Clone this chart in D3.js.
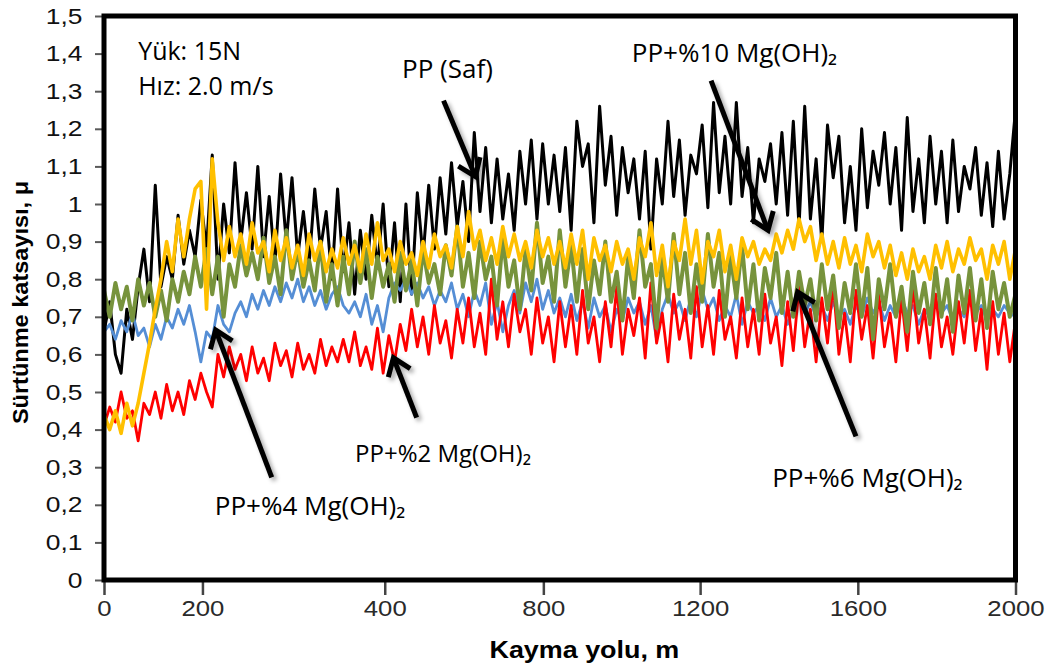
<!DOCTYPE html>
<html>
<head>
<meta charset="utf-8">
<script src="https://cdn.jsdelivr.net/npm/d3@7"></script>
<style>
  body { margin: 0; background: #fff; }
  svg { display: block; }
</style>
</head>
<body>
<div id="chart"></div>
<script>
// sliding distance covered by every series (m), samples are evenly spaced
const distanceMax = 2000;
const xTicks = [0, 200, 400, 800, 1200, 1600, 2000];
const yTicks = [0, 0.1, 0.2, 0.3, 0.4, 0.5, 0.6, 0.7, 0.8, 0.9, 1, 1.1, 1.2, 1.3, 1.4, 1.5];

// friction coefficient (161 samples each)
const ppSaf = [
  0.66,0.74,0.60,0.55,0.72,0.64,0.78,0.88,0.74,1.05,
  0.78,0.86,0.80,0.97,0.84,0.93,0.86,1.01,0.88,1.13,
  0.80,1.00,0.87,1.11,0.90,1.03,0.88,1.10,0.86,1.02,
  0.84,1.08,0.90,1.07,0.86,0.98,0.84,1.04,0.88,0.98,
  0.80,1.04,0.82,0.95,0.76,0.93,0.80,0.97,0.83,1.00,
  0.78,0.95,0.74,1.00,0.76,1.03,0.86,1.05,0.88,1.07,
  0.92,1.11,0.94,1.06,0.90,1.19,0.98,1.15,0.95,1.12,
  0.96,1.08,0.93,1.14,1.00,1.17,0.96,1.16,1.00,1.13,
  0.98,1.15,0.93,1.22,1.10,1.16,0.95,1.26,1.05,1.18,
  0.97,1.15,1.03,1.12,0.96,1.14,0.88,1.12,1.00,1.22,
  1.02,1.17,0.97,1.13,1.08,1.21,0.99,1.27,1.03,1.18,
  1.00,1.27,1.02,1.15,0.95,1.12,1.06,1.16,1.00,1.19,
  0.97,1.22,0.94,1.26,0.96,1.12,0.90,1.21,1.07,1.18,
  0.95,1.10,0.93,1.20,0.99,1.14,1.05,1.19,1.00,1.15,
  0.93,1.23,0.98,1.12,0.95,1.18,1.00,1.14,0.95,1.17,
  0.98,1.10,1.04,1.15,0.97,1.11,0.94,1.14,0.96,1.08,
  1.25
];
const pp2 = [
  0.41,0.46,0.42,0.50,0.43,0.45,0.37,0.47,0.44,0.50,
  0.43,0.52,0.45,0.50,0.44,0.53,0.48,0.55,0.50,0.46,
  0.60,0.54,0.62,0.56,0.60,0.53,0.62,0.55,0.59,0.53,
  0.63,0.57,0.61,0.54,0.63,0.56,0.60,0.55,0.64,0.57,
  0.62,0.58,0.64,0.58,0.66,0.57,0.62,0.56,0.67,0.55,
  0.65,0.58,0.68,0.61,0.72,0.62,0.70,0.60,0.73,0.63,
  0.69,0.59,0.72,0.63,0.75,0.62,0.71,0.60,0.80,0.64,
  0.74,0.62,0.76,0.66,0.72,0.60,0.75,0.63,0.70,0.58,
  0.74,0.62,0.73,0.60,0.77,0.63,0.70,0.58,0.74,0.62,
  0.78,0.60,0.72,0.65,0.75,0.59,0.79,0.63,0.71,0.58,
  0.76,0.64,0.72,0.59,0.78,0.62,0.73,0.60,0.77,0.64,
  0.70,0.59,0.75,0.62,0.72,0.60,0.76,0.63,0.70,0.57,
  0.74,0.61,0.78,0.62,0.72,0.58,0.75,0.63,0.79,0.60,
  0.71,0.58,0.77,0.64,0.73,0.59,0.76,0.62,0.71,0.58,
  0.75,0.61,0.78,0.63,0.72,0.59,0.76,0.62,0.70,0.60,
  0.74,0.63,0.77,0.61,0.72,0.56,0.74,0.60,0.71,0.58,
  0.69
];
const pp4 = [
  0.66,0.68,0.64,0.69,0.66,0.71,0.65,0.67,0.62,0.68,
  0.64,0.70,0.67,0.72,0.68,0.73,0.66,0.58,0.66,0.64,
  0.73,0.68,0.66,0.71,0.74,0.70,0.76,0.72,0.77,0.73,
  0.78,0.74,0.79,0.75,0.80,0.74,0.78,0.73,0.77,0.72,
  0.76,0.78,0.73,0.71,0.74,0.70,0.76,0.68,0.73,0.66,
  0.75,0.79,0.77,0.80,0.76,0.79,0.75,0.78,0.73,0.77,
  0.74,0.79,0.72,0.76,0.70,0.77,0.73,0.79,0.68,0.74,
  0.66,0.73,0.77,0.71,0.79,0.74,0.80,0.72,0.77,0.71,
  0.75,0.70,0.76,0.69,0.74,0.67,0.75,0.70,0.73,0.66,
  0.72,0.69,0.75,0.71,0.74,0.68,0.73,0.64,0.72,0.76,
  0.71,0.74,0.69,0.75,0.70,0.77,0.72,0.75,0.69,0.73,
  0.70,0.76,0.68,0.74,0.71,0.73,0.69,0.75,0.70,0.73,
  0.68,0.72,0.76,0.71,0.74,0.70,0.73,0.69,0.74,0.70,
  0.72,0.68,0.73,0.70,0.75,0.71,0.74,0.69,0.73,0.70,
  0.75,0.71,0.73,0.68,0.72,0.70,0.74,0.71,0.73,0.69,
  0.72,0.70,0.74,0.71,0.73,0.69,0.72,0.70,0.73,0.71,
  0.70
];
const pp6 = [
  0.77,0.70,0.79,0.72,0.78,0.69,0.80,0.73,0.79,0.70,
  0.77,0.69,0.80,0.74,0.82,0.76,0.86,0.78,0.88,0.76,
  0.86,0.70,0.84,0.78,0.89,0.81,0.87,0.80,0.91,0.79,
  0.86,0.76,0.93,0.80,0.88,0.78,0.85,0.77,0.90,0.74,
  0.84,0.73,0.86,0.76,0.90,0.79,0.88,0.75,0.86,0.78,
  0.84,0.74,0.87,0.77,0.85,0.73,0.88,0.79,0.84,0.76,
  0.89,0.81,0.94,0.78,0.87,0.75,0.90,0.80,0.86,0.73,
  0.91,0.78,0.85,0.72,0.88,0.77,0.95,0.79,0.86,0.74,
  0.93,0.78,0.89,0.74,0.88,0.72,0.85,0.76,0.90,0.74,
  0.82,0.69,0.86,0.75,0.93,0.78,0.84,0.67,0.86,0.74,
  0.92,0.76,0.87,0.71,0.84,0.74,0.92,0.78,0.87,0.70,
  0.86,0.75,0.89,0.72,0.84,0.69,0.83,0.75,0.87,0.71,
  0.82,0.70,0.82,0.73,0.80,0.69,0.84,0.72,0.81,0.67,
  0.79,0.71,0.84,0.70,0.83,0.64,0.80,0.72,0.84,0.70,
  0.78,0.66,0.82,0.71,0.79,0.68,0.83,0.70,0.80,0.66,
  0.81,0.71,0.83,0.69,0.80,0.67,0.82,0.72,0.79,0.70,
  0.76
];
const pp10 = [
  0.44,0.40,0.45,0.39,0.47,0.41,0.47,0.55,0.63,0.72,
  0.80,0.90,0.82,0.96,0.86,0.96,1.04,1.06,0.72,1.12,
  0.95,0.85,0.94,0.86,0.92,0.84,0.95,0.87,0.90,0.82,
  0.93,0.85,0.91,0.83,0.89,0.81,0.92,0.85,0.90,0.82,
  0.88,0.83,0.91,0.84,0.89,0.82,0.92,0.84,0.95,0.85,
  0.88,0.82,0.90,0.84,0.87,0.81,0.90,0.83,0.92,0.86,
  0.89,0.83,0.94,0.86,0.98,0.88,0.93,0.85,0.91,0.84,
  0.94,0.86,0.92,0.85,0.90,0.83,0.93,0.86,0.91,0.84,
  0.90,0.83,0.92,0.84,0.93,0.80,0.91,0.85,0.89,0.82,
  0.90,0.84,0.88,0.80,0.91,0.86,0.95,0.81,0.89,0.78,
  0.90,0.85,0.96,0.84,0.93,0.79,0.90,0.86,0.93,0.82,
  0.89,0.80,0.91,0.86,0.90,0.84,0.88,0.85,0.92,0.87,
  0.93,0.88,0.96,0.90,0.94,0.85,0.92,0.84,0.90,0.83,
  0.91,0.84,0.89,0.82,0.92,0.86,0.90,0.83,0.89,0.81,
  0.87,0.80,0.88,0.82,0.86,0.80,0.89,0.83,0.90,0.82,
  0.88,0.84,0.91,0.85,0.88,0.80,0.89,0.84,0.90,0.80,
  0.88
];

// drawing order: back to front
const seriesNames = ["PP (Saf)", "PP+%4 Mg(OH)₂", "PP+%2 Mg(OH)₂", "PP+%6 Mg(OH)₂", "PP+%10 Mg(OH)₂"];
const seriesValues = [ppSaf, pp4, pp2, pp6, pp10];
const seriesColors = ["#000000", "#558ED5", "#FF0000", "#77933C", "#FFC000"];
const seriesWidths = [3, 2.8, 2.8, 4, 3.6];

// annotation texts and arrows (in data units: m, μ)
const noteTexts = ["Yük: 15N", "Hız: 2.0 m/s", "PP (Saf)", "PP+%10 Mg(OH)₂", "PP+%2 Mg(OH)₂", "PP+%4 Mg(OH)₂", "PP+%6 Mg(OH)₂"];
const noteAt = [[75, 1.383], [75, 1.290], [654, 1.335], [1158, 1.378], [551, 0.314], [243, 0.173], [1466, 0.247]];
const noteSize = [25, 25, 26, 26, 24, 26, 26];
const arrowFrom = [[745, 1.275], [1332, 1.328], [686, 0.432], [368, 0.273], [1650, 0.382]];
const arrowTo   = [[815, 1.073], [1457, 0.930], [635, 0.591], [245, 0.665], [1522, 0.766]];

// the pasted x-axis labels of the original are not evenly spaced
const xTickFrac = [0, 0.108, 0.308, 0.482, 0.654, 0.827, 1];

const W = 1056, H = 671;
const margin = { top: 16, right: 40.5, bottom: 91, left: 104 };
const innerW = W - margin.left - margin.right;
const innerH = H - margin.top - margin.bottom;

const svg = d3.select("#chart").append("svg")
  .attr("width", W)
  .attr("height", H);

const defs = svg.append("defs");
const shadow = defs.append("filter").attr("id", "shadow")
  .attr("x", "-20%").attr("y", "-20%").attr("width", "140%").attr("height", "140%");
shadow.append("feDropShadow")
  .attr("dx", 3).attr("dy", 3).attr("stdDeviation", 2)
  .attr("flood-color", "#000").attr("flood-opacity", 0.35);

const x = d3.scaleLinear().domain([0, distanceMax]).range([margin.left, margin.left + innerW]);
const y = d3.scaleLinear().domain([0, 1.5]).range([margin.top + innerH, margin.top]);
const xAxisScale = d3.scaleLinear()
  .domain(xTicks)
  .range(xTickFrac.map(f => margin.left + f * innerW));

const comma = d3.formatLocale({ decimal: ",", thousands: ".", grouping: [3], currency: ["", ""] }).format("~g");

// series
const line = d3.line()
  .x((d, i, arr) => x(i * distanceMax / (arr.length - 1)))
  .y(d => y(d));

seriesValues.forEach((vals, k) => {
  svg.append("path")
    .datum(vals)
    .attr("fill", "none")
    .attr("stroke", seriesColors[k])
    .attr("stroke-width", seriesWidths[k])
    .attr("stroke-linejoin", "round")
    .attr("d", line);
});

// y axis
const yAxis = svg.append("g")
  .attr("transform", `translate(${margin.left}, 0)`)
  .call(d3.axisLeft(y).tickValues(yTicks).tickFormat(comma).tickSize(9).tickPadding(9));
yAxis.select(".domain").remove();
yAxis.selectAll(".tick line").attr("stroke", "#595959").attr("stroke-width", 2);
yAxis.selectAll(".tick text")
  .attr("fill", "#111")
  .attr("transform", "scale(1.2,1)")
  .style("font-family", "'Liberation Sans', Arial, sans-serif")
  .style("font-size", "22px");

// x axis
const xAxis = svg.append("g")
  .attr("transform", `translate(0, ${margin.top + innerH + 2})`)
  .call(d3.axisBottom(xAxisScale).tickValues(xTicks).tickFormat(d3.format("d")).tickSize(13).tickPadding(5));
xAxis.select(".domain").remove();
xAxis.selectAll(".tick line").attr("stroke", "#444").attr("stroke-width", 2.5);
xAxis.selectAll(".tick text")
  .attr("fill", "#2a2a2a")
  .attr("transform", "scale(1.12,1)")
  .style("font-family", "'Liberation Sans', Arial, sans-serif")
  .style("font-size", "23px");

// plot frame
svg.append("rect")
  .attr("x", margin.left)
  .attr("y", margin.top)
  .attr("width", innerW)
  .attr("height", innerH)
  .attr("fill", "none")
  .attr("stroke", "#000")
  .attr("stroke-width", 5);

// axis titles
svg.append("text")
  .attr("transform", `translate(${margin.left + innerW * 0.527}, ${H - 13}) scale(1.17,1)`)
  .attr("text-anchor", "middle")
  .style("font-family", "'Liberation Sans', Arial, sans-serif")
  .style("font-weight", "bold")
  .style("font-size", "23px")
  .text("Kayma yolu, m");

svg.append("text")
  .attr("transform", `translate(28, ${margin.top + innerH * 0.508}) rotate(-90) scale(1.07,1)`)
  .attr("text-anchor", "middle")
  .style("font-family", "'Liberation Sans', Arial, sans-serif")
  .style("font-weight", "bold")
  .style("font-size", "22px")
  .text("Sürtünme katsayısı, μ");

// arrows
const arrowG = svg.append("g").attr("filter", "url(#shadow)");
arrowFrom.forEach((from, k) => {
  const x0 = x(from[0]), y0 = y(from[1]);
  const x1 = x(arrowTo[k][0]), y1 = y(arrowTo[k][1]);
  const a = Math.atan2(y1 - y0, x1 - x0);
  const L = 20, th = Math.PI / 5;
  arrowG.append("line")
    .attr("x1", x0).attr("y1", y0)
    .attr("x2", x1 - 3 * Math.cos(a)).attr("y2", y1 - 3 * Math.sin(a))
    .attr("stroke", "#000").attr("stroke-width", 5);
  arrowG.append("path")
    .attr("d", d3.line()([
      [x1 - L * Math.cos(a - th), y1 - L * Math.sin(a - th)],
      [x1, y1],
      [x1 - L * Math.cos(a + th), y1 - L * Math.sin(a + th)]
    ]))
    .attr("fill", "none")
    .attr("stroke", "#000")
    .attr("stroke-width", 5)
    .attr("stroke-linejoin", "miter");
});

// notes
noteTexts.forEach((t, k) => {
  svg.append("text")
    .attr("x", x(noteAt[k][0]))
    .attr("y", y(noteAt[k][1]))
    .style("font-family", "'Open Sans', 'Noto Sans', sans-serif")
    .style("font-size", noteSize[k] + "px")
    .attr("fill", "#000")
    .text(t);
});
</script>
</body>
</html>
